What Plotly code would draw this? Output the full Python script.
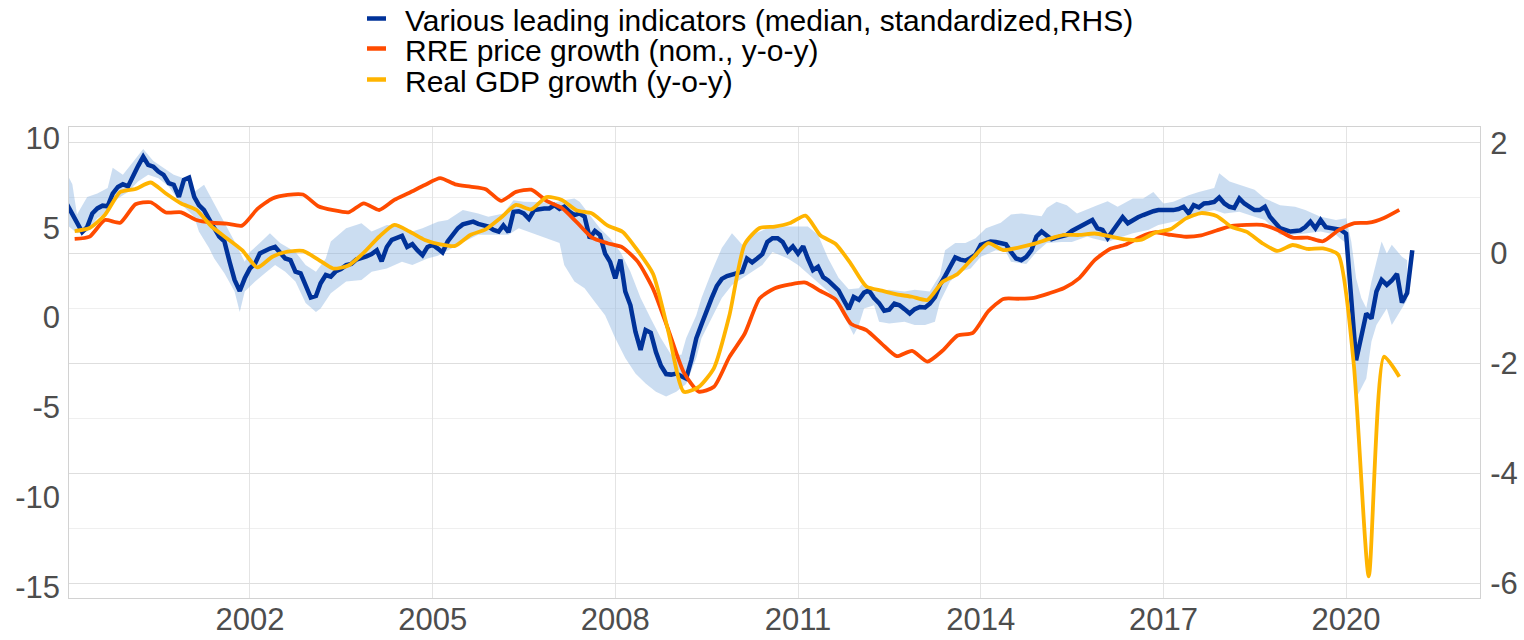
import pandas as pd
import plotly.graph_objects as go

# ---------------- data ----------------
legend_labels = [
    "Various leading indicators (median, standardized,RHS)",
    "RRE price growth (nom., y-o-y)",
    "Real GDP growth (y-o-y)",
]
x_tick_years = [2002, 2005, 2008, 2011, 2014, 2017, 2020]
left_ticks = [-15, -10, -5, 0, 5, 10]
right_ticks = [-6, -4, -2, 0, 2]

# monthly, starting Jan 1999 (RHS)
blue_start = "1999-01-01"
blue_values = [
    0.88, 0.72, 0.55, 0.38, 0.47, 0.72, 0.81, 0.86, 0.85, 1.08, 1.20, 1.25,
    1.21, 1.42, 1.58, 1.75, 1.60, 1.57, 1.48, 1.42, 1.27, 1.24, 1.02, 1.33,
    1.37, 1.02, 0.87, 0.78, 0.60, 0.45, 0.30, 0.21, -0.16, -0.49, -0.69, -0.46,
    -0.28, -0.19, -0.01, 0.04, 0.08, 0.11, 0.01, -0.10, -0.13, -0.34, -0.37, -0.61,
    -0.81, -0.78, -0.55, -0.40, -0.43, -0.33, -0.29, -0.22, -0.20, -0.12, -0.10, -0.06,
    -0.02, 0.05, -0.15, 0.11, 0.24, 0.28, 0.31, 0.11, 0.16, 0.05, -0.04, 0.11,
    0.15, 0.08, 0.01, 0.21, 0.33, 0.45, 0.52, 0.55, 0.57, 0.53, 0.50, 0.48,
    0.42, 0.39, 0.50, 0.38, 0.75, 0.76, 0.72, 0.62, 0.78, 0.80, 0.81, 0.81,
    0.87, 0.80, 0.84, 0.75, 0.69, 0.72, 0.66, 0.27, 0.40, 0.33, -0.01, -0.16,
    -0.46, -0.12, -0.70, -0.95, -1.43, -1.76, -1.40, -1.45, -1.80, -2.05, -2.20, -2.21,
    -2.19, -2.24, -2.28, -1.95, -1.55, -1.30, -1.05, -0.82, -0.60, -0.47, -0.42, -0.39,
    -0.37, -0.34, -0.10, -0.17, -0.10, -0.02, 0.20, 0.27, 0.27, 0.20, 0.03, 0.12,
    -0.01, 0.12, -0.10, -0.31, -0.25, -0.44, -0.50, -0.58, -0.68, -0.85, -1.02, -0.80,
    -0.85, -0.72, -0.68, -0.82, -0.91, -1.05, -1.03, -0.92, -0.95, -1.02, -1.10, -1.02,
    -0.98, -0.99, -0.92, -0.80, -0.58, -0.42, -0.25, -0.08, -0.12, -0.14, -0.09, -0.03,
    0.15, 0.18, 0.21, 0.20, 0.18, 0.16, 0.02, -0.10, -0.13, -0.07, 0.05, 0.30,
    0.39, 0.32, 0.25, 0.28, 0.30, 0.33, 0.40, 0.45, 0.48, 0.54, 0.60, 0.45,
    0.42, 0.27, 0.40, 0.51, 0.65, 0.54, 0.60, 0.65, 0.69, 0.73, 0.76, 0.78,
    0.78, 0.77, 0.78, 0.80, 0.84, 0.72, 0.87, 0.83, 0.90, 0.91, 0.93, 1.01,
    0.90, 0.84, 0.82, 0.99, 0.90, 0.84, 0.78, 0.78, 0.84, 0.66, 0.55, 0.45,
    0.42, 0.39, 0.40, 0.41, 0.47, 0.57, 0.45, 0.60, 0.47, 0.45, 0.44, 0.42,
    0.35, -0.75, -1.95, -1.52, -1.10, -1.19, -0.70, -0.49, -0.58, -0.50, -0.38, -0.90,
    -0.73, 0.05,
]

# range of leading indicators (RHS)
band_upper_dates = [
    "1999-01", "1999-02", "1999-03", "1999-04", "1999-05", "1999-07", "1999-09", "1999-10",
    "1999-12", "2000-02", "2000-04", "2000-06", "2000-08", "2000-10", "2000-12", "2001-02",
    "2001-04", "2001-06", "2001-08", "2001-10", "2001-12", "2002-01", "2002-03", "2002-05",
    "2002-07", "2002-10", "2002-12", "2003-02", "2003-04", "2003-05", "2003-08", "2003-11",
    "2004-01", "2004-04", "2004-07", "2004-09", "2004-11", "2005-02", "2005-04", "2005-07",
    "2005-10", "2005-12", "2006-03", "2006-05", "2006-07", "2006-10", "2007-01", "2007-03",
    "2007-05", "2007-06", "2007-08", "2007-10", "2007-12", "2008-02", "2008-04", "2008-06",
    "2008-08", "2008-10", "2008-12", "2009-02", "2009-03", "2009-05", "2009-06", "2009-08",
    "2009-10", "2009-12", "2010-02", "2010-04", "2010-07", "2010-09", "2010-12", "2011-03",
    "2011-05", "2011-07", "2011-09", "2011-11", "2012-01", "2012-02", "2012-04", "2012-07",
    "2012-10", "2012-12", "2013-03", "2013-05", "2013-06", "2013-08", "2013-10", "2013-12",
    "2014-02", "2014-05", "2014-07", "2014-09", "2015-01", "2015-02", "2015-04", "2015-06",
    "2015-08", "2015-10", "2015-12", "2016-02", "2016-04", "2016-07", "2016-09", "2016-11",
    "2017-01", "2017-03", "2017-06", "2017-08", "2017-11", "2017-12", "2018-02", "2018-04",
    "2018-07", "2018-09", "2018-12", "2019-03", "2019-05", "2019-08", "2019-11", "2020-01",
    "2020-02", "2020-03", "2020-04", "2020-05", "2020-06", "2020-07", "2020-08", "2020-09",
    "2020-10", "2020-12", "2021-01",
]
band_upper = [
    1.43, 1.25, 0.70, 0.85, 1.02, 1.08, 1.18, 1.55,
    1.42, 1.66, 1.89, 1.67, 1.54, 1.42, 1.36, 1.11,
    1.24, 0.90, 0.57, 0.21, -0.16, 0.02, 0.18, 0.36,
    0.18, 0.02, -0.22, -0.34, -0.10, 0.21, 0.45, 0.54,
    0.39, 0.51, 0.48, 0.39, 0.45, 0.57, 0.60, 0.78,
    0.72, 0.66, 0.72, 0.96, 0.93, 0.93, 0.92, 0.96,
    0.99, 0.93, 0.69, 0.45, 0.27, 0.02, -0.34, -0.82,
    -1.19, -1.55, -1.85, -1.85, -1.55, -1.13, -0.82, -0.34,
    0.09, 0.36, 0.15, 0.33, 0.45, 0.48, 0.48, 0.48,
    0.33, -0.10, -0.45, -0.66, -0.64, -0.52, -0.70, -0.67,
    -0.70, -0.67, -0.70, -0.40, 0.05, 0.18, 0.18, 0.27,
    0.45, 0.55, 0.70, 0.72, 0.67, 0.82, 0.93, 0.87,
    0.72, 0.80, 0.87, 0.94, 0.84, 0.99, 0.99, 1.11,
    0.90, 0.93, 1.05, 1.11, 1.18, 1.45, 1.30, 1.24,
    1.15, 0.99, 0.87, 0.84, 0.78, 0.66, 0.60, 0.63,
    0.21, -0.46, -0.82, -1.00, -0.52, -0.16, 0.21, -0.01,
    0.15, -0.07, -0.13,
]
band_lower_dates = [
    "1999-01", "1999-03", "1999-05", "1999-07", "1999-09", "1999-11", "2000-01", "2000-03",
    "2000-05", "2000-07", "2000-09", "2000-11", "2000-12", "2001-02", "2001-03", "2001-05",
    "2001-06", "2001-08", "2001-10", "2001-11", "2001-12", "2002-02", "2002-04", "2002-06",
    "2002-08", "2002-10", "2002-12", "2003-02", "2003-03", "2003-05", "2003-08", "2003-11",
    "2004-01", "2004-04", "2004-07", "2004-09", "2004-12", "2005-02", "2005-05", "2005-08",
    "2005-10", "2006-01", "2006-04", "2006-06", "2006-09", "2006-11", "2007-02", "2007-03",
    "2007-05", "2007-07", "2007-09", "2007-11", "2008-01", "2008-03", "2008-05", "2008-07",
    "2008-09", "2008-11", "2009-01", "2009-03", "2009-05", "2009-06", "2009-08", "2009-10",
    "2009-12", "2010-02", "2010-04", "2010-06", "2010-08", "2010-11", "2011-01", "2011-04",
    "2011-07", "2011-09", "2011-12", "2012-01", "2012-02", "2012-04", "2012-05", "2012-07",
    "2012-10", "2012-12", "2013-02", "2013-04", "2013-05", "2013-07", "2013-09", "2013-11",
    "2014-01", "2014-04", "2014-06", "2014-07", "2014-10", "2014-12", "2015-02", "2015-05",
    "2015-07", "2015-10", "2015-11", "2016-02", "2016-04", "2016-07", "2016-10", "2016-12",
    "2017-03", "2017-06", "2017-08", "2017-11", "2018-01", "2018-04", "2018-07", "2018-09",
    "2018-12", "2019-03", "2019-05", "2019-08", "2019-11", "2019-12", "2020-01", "2020-02",
    "2020-03", "2020-05", "2020-06", "2020-07", "2020-09", "2020-10", "2020-12", "2021-01",
]
band_lower = [
    0.51, 0.36, 0.39, 0.63, 0.75, 0.99, 1.11, 1.30,
    1.42, 1.36, 1.21, 0.95, 0.84, 0.66, 0.39, 0.09,
    -0.10, -0.37, -0.70, -1.07, -0.70, -0.52, -0.37, -0.22,
    -0.34, -0.52, -0.91, -1.07, -1.01, -0.73, -0.52, -0.49,
    -0.34, -0.28, -0.16, -0.22, -0.10, -0.05, 0.09, 0.24,
    0.33, 0.33, 0.33, 0.45, 0.35, 0.28, 0.18, -0.22,
    -0.52, -0.64, -0.89, -1.13, -1.55, -1.91, -2.19, -2.37,
    -2.52, -2.61, -2.52, -2.38, -1.91, -1.55, -1.19, -0.82,
    -0.58, -0.45, -0.34, -0.22, 0.02, -0.10, -0.22, -0.46,
    -0.70, -0.95, -1.49, -1.31, -1.01, -0.95, -1.25, -1.28,
    -1.25, -1.31, -1.31, -1.25, -0.89, -0.52, -0.34, -0.28,
    -0.07, 0.05, 0.02, -0.16, -0.20, 0.02, 0.18, 0.20,
    0.20, 0.30, 0.27, 0.20, 0.27, 0.36, 0.42, 0.51,
    0.57, 0.62, 0.72, 0.78, 0.72, 0.75, 0.66, 0.60,
    0.33, 0.33, 0.36, 0.39, 0.33, 0.25, 0.18, -1.31,
    -2.64, -2.28, -1.61, -1.31, -1.01, -1.31, -1.00, -0.85,
]

# quarterly, starting 1999 Q1 (LHS)
q_start = "1999-01-01"
rre_values = [
    4.38, 4.51, 5.43, 5.28, 6.31, 6.42, 5.85, 5.86, 5.43, 5.28,
    5.23, 5.12, 6.05, 6.63, 6.83, 6.85, 6.20, 5.98, 5.86, 6.36,
    5.99, 6.55, 6.95, 7.38, 7.76, 7.42, 7.29, 7.15, 6.50, 7.00,
    7.12, 6.50, 6.10, 5.30, 4.45, 4.14, 3.90, 3.10, 1.60, -0.70,
    -3.05, -4.12, -3.85, -2.20, -0.90, 1.07, 1.63, 1.85, 1.95, 1.48,
    1.00, -0.35, -0.70, -1.45, -2.15, -1.85, -2.45, -1.85, -1.00, -0.85,
    0.35, 1.04, 1.05, 1.10, 1.35, 1.65, 2.20, 3.20, 3.82, 4.05,
    4.49, 4.75, 4.60, 4.50, 4.58, 4.85, 5.10, 5.16, 5.16, 4.88,
    4.45, 4.45, 4.25, 4.85, 5.25, 5.28, 5.55, 6.00,
]
gdp_values = [
    4.82, 4.99, 5.71, 6.99, 7.16, 7.52, 6.91, 6.35, 5.99, 5.07,
    4.42, 3.76, 2.79, 3.39, 3.67, 3.71, 3.23, 2.73, 2.90, 3.62,
    4.50, 5.16, 4.79, 4.32, 4.08, 3.99, 4.60, 4.91, 5.57, 6.27,
    6.02, 6.71, 6.55, 5.96, 5.80, 5.13, 4.77, 3.71, 2.43, -0.80,
    -4.13, -3.86, -2.81, 0.10, 4.08, 4.99, 5.07, 5.27, 5.68, 4.57,
    4.10, 2.98, 1.73, 1.50, 1.29, 1.16, 0.98, 1.98, 2.43, 3.32,
    4.14, 3.76, 3.90, 4.10, 4.38, 4.60, 4.60, 4.68, 4.52, 4.35,
    4.32, 4.74, 4.93, 5.52, 5.82, 5.66, 5.04, 4.77, 4.15, 3.71,
    4.04, 3.82, 3.85, 3.50, -2.50, -14.40, -2.18, -3.29,
]

# ---------------- figure ----------------
BLUE = "#003299"
ORANGE = "#ff4b00"
YELLOW = "#ffb400"
FONT = "Liberation Sans, Arial, sans-serif"
TICK_COLOR = "#4d4d4d"

blue_dates = pd.date_range(blue_start, periods=len(blue_values), freq="MS")
q_dates = pd.date_range(q_start, periods=len(gdp_values), freq="QS") + pd.Timedelta(days=45)

band_x = list(pd.to_datetime(band_upper_dates)) + list(pd.to_datetime(band_lower_dates))[::-1]
band_y = band_upper + band_lower[::-1]

fig = go.Figure()
fig.add_trace(go.Scatter(
    x=band_x, y=band_y, mode="lines", fill="toself",
    fillcolor="rgba(140,180,225,0.45)", line=dict(width=0),
    hoverinfo="skip", showlegend=False, yaxis="y",
))
fig.add_trace(go.Scatter(
    x=blue_dates, y=blue_values, mode="lines", name=legend_labels[0],
    line=dict(color=BLUE, width=4.5), showlegend=False, yaxis="y",
))
fig.add_trace(go.Scatter(
    x=q_dates, y=rre_values, mode="lines", name=legend_labels[1],
    line=dict(color=ORANGE, width=3.8, shape="spline", smoothing=0.6),
    showlegend=False, yaxis="y2",
))
fig.add_trace(go.Scatter(
    x=q_dates, y=gdp_values, mode="lines", name=legend_labels[2],
    line=dict(color=YELLOW, width=3.8, shape="spline", smoothing=0.6),
    showlegend=False, yaxis="y2",
))

W, H = 1524, 640
# plot area in page pixels
L, R, T, B = 69, 1480, 127, 598


def px_x(px):
    return (px - L) / (R - L)


def px_y(py):
    return (B - py) / (B - T)


# custom legend (short line + text)
legend_colors = [BLUE, ORANGE, YELLOW]
marker_y = [18.5, 48.5, 79.5]
text_y = [20, 50.5, 81]
shapes = []
annotations = []
for lab, col, my, ty in zip(legend_labels, legend_colors, marker_y, text_y):
    shapes.append(dict(type="line", xref="paper", yref="paper",
                       x0=px_x(367), x1=px_x(386), y0=px_y(my), y1=px_y(my),
                       line=dict(color=col, width=4.5)))
    annotations.append(dict(xref="paper", yref="paper", x=px_x(403), y=px_y(ty),
                            xanchor="left", yanchor="middle", text=lab, showarrow=False,
                            font=dict(family=FONT, size=30, color="#000000")))

tickfont = dict(family=FONT, size=31, color=TICK_COLOR)

fig.update_layout(
    width=W, height=H,
    margin=dict(l=L, r=W - R, t=T, b=H - B, autoexpand=False),
    paper_bgcolor="white", plot_bgcolor="white",
    shapes=shapes, annotations=annotations,
    showlegend=False,
    xaxis=dict(
        type="date", range=["1999-01-12", "2022-03-14"], automargin=False,
        tickvals=[f"{y}-01-01" for y in x_tick_years],
        ticktext=[str(y) for y in x_tick_years],
        showgrid=True, gridcolor="#e4e4e4", gridwidth=1,
        showline=True, mirror=True, linecolor="#d2d2d2", linewidth=1,
        ticks="", zeroline=False, tickfont=tickfont, ticklabelstandoff=-6,
    ),
    yaxis=dict(
        side="right", range=[-6.27, 2.29], automargin=False,
        tickvals=right_ticks, ticktext=[str(v) for v in right_ticks],
        showgrid=True, gridcolor="#dedede", gridwidth=1,
        minor=dict(tickvals=[-5, -3, -1, 1], showgrid=True, gridcolor="#efefef", gridwidth=1, ticks=""),
        showline=True, mirror=True, linecolor="#d2d2d2", linewidth=1,
        ticks="", zeroline=False, tickfont=tickfont, ticklabelstandoff=3,
    ),
    yaxis2=dict(
        overlaying="y", side="left", range=[-15.61, 10.61], automargin=False,
        tickvals=left_ticks, ticktext=[str(v) for v in left_ticks],
        showgrid=False, zeroline=False, ticks="", tickfont=tickfont,
        ticklabelstandoff=8,
    ),
)

# remove the browser's default 8px body margin so the figure fills the window
fig.write_html(
    "out.html",
    config={"displayModeBar": False, "staticPlot": True},
    post_script="document.body.style.margin='0';document.body.style.overflow='hidden';",
)
